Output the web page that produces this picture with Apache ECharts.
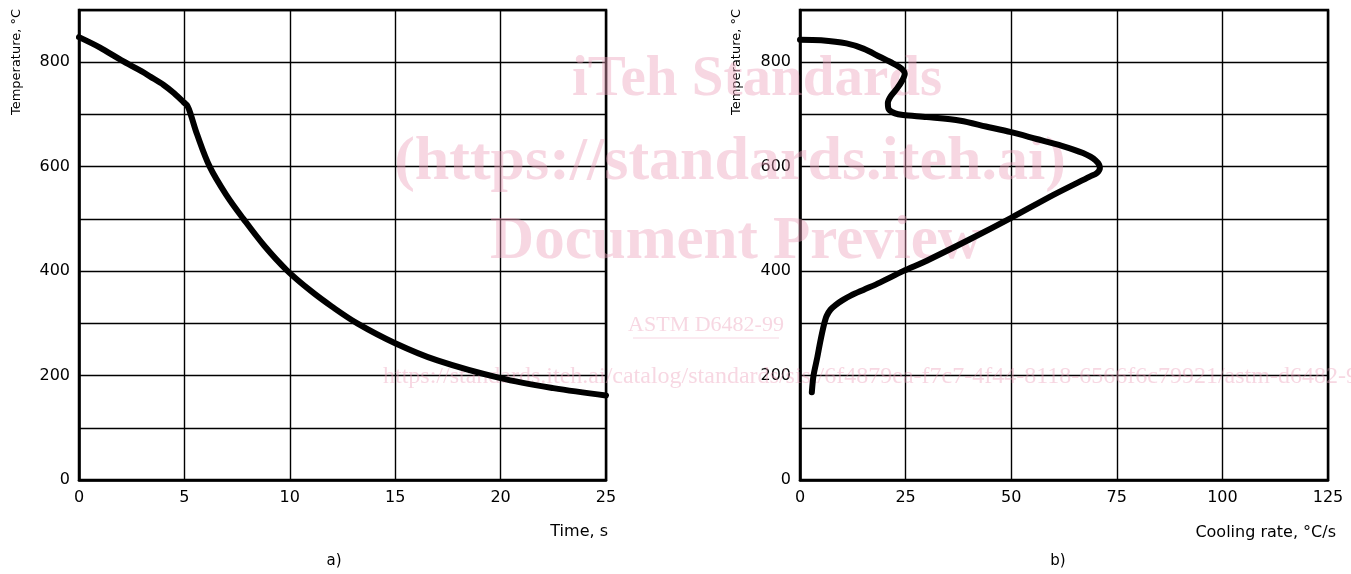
<!DOCTYPE html>
<html>
<head>
<meta charset="utf-8">
<script src="https://cdn.jsdelivr.net/npm/echarts@6/dist/echarts.min.js"></script>
<style>
html,body{margin:0;padding:0;background:#fff;}
#c{width:1351px;height:574px;}
</style>
</head>
<body>
<div id="c"></div>
<script>
// Panel a) temperature vs time
var timeS = [0, 1, 2, 3, 3.4, 4, 4.5, 5, 5.15, 5.3, 5.6, 6.2, 7, 7.8, 8.8, 9.85, 11, 12, 13.2, 15, 17, 20, 22.5, 25];
var tempA = [848, 828, 804, 782, 772, 757, 741, 722, 716, 700, 662, 600, 545, 500, 448, 402, 362, 332, 300, 262, 229, 195, 176, 162];
var kinkTime = 5;
// Panel b) temperature vs cooling rate
var rateB = [0, 5, 11, 15, 19, 22, 24, 24.8, 24.2, 23, 21.5, 20.8, 21, 22.5, 24.4, 30, 38, 44, 50, 56, 62, 67, 70, 71, 70.3, 68.6, 60, 50, 40, 30, 24.4, 18.9, 15, 12, 10, 8.4, 7.2, 6.3, 5.6, 4.8, 4.1, 3.2, 2.8];
var tempB = [843, 842, 836, 826, 810, 798, 788, 778, 765, 750, 735, 722, 710, 702, 699, 695, 688, 677, 666, 653, 640, 626, 612, 598, 588, 581, 546, 502, 460, 420, 400, 378, 364, 353, 344, 335, 326, 314, 295, 265, 235, 200, 168];
var timeTicks = [0, 5, 10, 15, 20, 25];
var rateTicks = [0, 25, 50, 75, 100, 125];
var tempLabels = [0, 200, 400, 600, 800];

var FONT = 'DejaVu Sans';
function pairs(xs, ys){ return xs.map(function(x,i){ return [x, ys[i]]; }); }
var allA = pairs(timeS, tempA);
var k = timeS.indexOf(kinkTime);
var segA1 = allA.slice(0, k + 1);
var segA2 = allA.slice(k);

var chart = echarts.init(document.getElementById('c'));
function xAx(idx, max, step){
  return {
    type:'value', gridIndex: idx, min:0, max:max, interval:step,
    axisLine:{show:true, lineStyle:{color:'#000', width:2.5}},
    axisTick:{show:false},
    splitLine:{show:true, lineStyle:{color:'#000', width:1.4}},
    axisLabel:{color:'#000', fontFamily:FONT, fontSize:16, margin:10}
  };
}
function yAx(idx){
  return {
    type:'value', gridIndex: idx, min:0, max:900, interval:100,
    axisLine:{show:true, lineStyle:{color:'#000', width:2.5}},
    axisTick:{show:false},
    splitLine:{show:true, lineStyle:{color:'#000', width:1.4}},
    axisLabel:{color:'#000', fontFamily:FONT, fontSize:16, margin:9,
      formatter:function(v){ return tempLabels.indexOf(v) >= 0 ? String(v) : ''; }}
  };
}
var lineSt = {color:'#000', width:6, join:'round', cap:'round'};
var wmPink = 'rgba(236,160,185,0.42)';
chart.setOption({
  animation:false,
  backgroundColor:'#fff',
  grid:[
    {left:79, top:10, width:527, height:470, show:true, borderColor:'#000', borderWidth:2.5, backgroundColor:'transparent'},
    {left:800, top:10, width:528, height:470, show:true, borderColor:'#000', borderWidth:2.5, backgroundColor:'transparent'}
  ],
  xAxis:[xAx(0, 25, 5), xAx(1, 125, 25)],
  yAxis:[yAx(0), yAx(1)],
  series:[
    {type:'line', xAxisIndex:0, yAxisIndex:0, data:segA1, showSymbol:false, smooth:0.3, lineStyle:lineSt, z:5},
    {type:'line', xAxisIndex:0, yAxisIndex:0, data:segA2, showSymbol:false, smooth:0.35, lineStyle:lineSt, z:5},
    {type:'line', xAxisIndex:1, yAxisIndex:1, data:pairs(rateB, tempB), showSymbol:false, smooth:0.3, lineStyle:lineSt, z:5}
  ],
  graphic:[
    {type:'text', x:17, y:62, rotation:Math.PI/2, style:{text:'Temperature, °C', font:'13px "DejaVu Sans"', fill:'#000', textAlign:'center', textVerticalAlign:'middle'}},
    {type:'text', x:737, y:62, rotation:Math.PI/2, style:{text:'Temperature, °C', font:'13px "DejaVu Sans"', fill:'#000', textAlign:'center', textVerticalAlign:'middle'}},
    {type:'text', x:608, y:532, style:{text:'Time, s', font:'16px "DejaVu Sans"', fill:'#000', textAlign:'right', textVerticalAlign:'middle'}},
    {type:'text', x:1336, y:533, style:{text:'Cooling rate, °C/s', font:'16px "DejaVu Sans"', fill:'#000', textAlign:'right', textVerticalAlign:'middle'}},
    {type:'text', x:334, y:561, style:{text:'a)', font:'15px "DejaVu Sans"', fill:'#000', textAlign:'center', textVerticalAlign:'middle'}},
    {type:'text', x:1058, y:561, style:{text:'b)', font:'15px "DejaVu Sans"', fill:'#000', textAlign:'center', textVerticalAlign:'middle'}},
    {type:'text', x:757, y:80, z:1, style:{text:'iTeh Standards', font:'bold 57px "Liberation Serif"', fill:wmPink, textAlign:'center', textVerticalAlign:'middle'}},
    {type:'text', x:730, y:163, z:1, style:{text:'(https://standards.iteh.ai)', font:'bold 62px "Liberation Serif"', fill:wmPink, textAlign:'center', textVerticalAlign:'middle'}},
    {type:'text', x:736, y:242, z:1, style:{text:'Document Preview', font:'bold 61px "Liberation Serif"', fill:wmPink, textAlign:'center', textVerticalAlign:'middle'}},
    {type:'text', x:706, y:325, z:1, style:{text:'ASTM D6482-99', font:'22px "Liberation Serif"', fill:wmPink, textAlign:'center', textVerticalAlign:'middle'}},
    {type:'line', z:1, shape:{x1:633, y1:338, x2:779, y2:338}, style:{stroke:wmPink, lineWidth:1.2}},
    {type:'text', x:383, y:377, z:1, style:{text:'https://standards.iteh.ai/catalog/standards/sist/6f4879ea-f7c7-4f44-8118-6566f6c79921/astm-d6482-99', font:'24px "Liberation Serif"', fill:wmPink, textAlign:'left', textVerticalAlign:'middle'}}
  ]
});
</script>
</body>
</html>
